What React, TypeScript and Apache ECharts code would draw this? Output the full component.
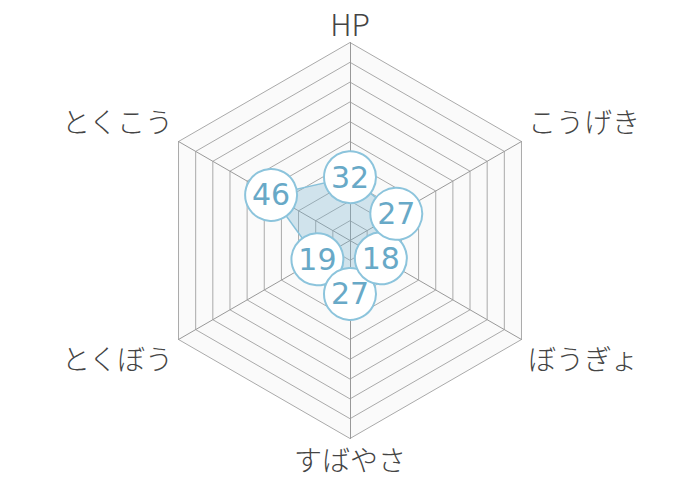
import { useEffect, useRef } from 'react'
import * as echarts from 'echarts'

// listed counter-clockwise from the top, which is how the radar lays them out
const statNames = ['HP', 'とくこう', 'とくぼう', 'すばやさ', 'ぼうぎょ', 'こうげき']
const statValues = [32, 46, 19, 27, 18, 27]
const statMax = 100

const FONT = '"Noto Sans CJK JP", "Noto Sans", sans-serif'
const NUM_FONT = '"DejaVu Sans", sans-serif'

// where each name sits around the hexagon
const nameStyle = ['top', 'left', 'leftLow', 'bottom', 'rightLow', 'right']

export default function App() {
  const ref = useRef<HTMLDivElement>(null)

  useEffect(() => {
    document.body.style.margin = '0'
    if (!ref.current) return
    const chart = echarts.init(ref.current, null, { renderer: 'svg' })

    const base = { fontSize: 28, lineHeight: 28, color: '#444', fontFamily: FONT, fontWeight: 300 }

    chart.setOption({
      animation: false,
      backgroundColor: '#fff',
      radar: {
        center: [350, 240.5],
        radius: 198,
        startAngle: 90,
        splitNumber: 10,
        shape: 'polygon',
        nameGap: 4,
        indicator: statNames.map(n => ({ name: n, max: statMax, min: 0 })),
        axisName: {
          formatter: (name: string) => {
            const i = statNames.indexOf(name)
            return `{${nameStyle[i]}|${name}}`
          },
          rich: {
            top:      { ...base, fontSize: 30, lineHeight: 30, padding: [0, 0, 2, 0] },
            right:    { ...base, padding: [0, 0, 37, 3] },
            rightLow: { ...base, padding: [33, 0, 0, 3] },
            bottom:   { ...base, padding: [5, 0, 0, 0] },
            leftLow:  { ...base, padding: [33, 2, 0, 0] },
            left:     { ...base, padding: [0, 2, 37, 0] },
          },
        },
        splitArea: { areaStyle: { color: ['#fafafa'] } },
        splitLine: { lineStyle: { color: '#aaa', width: 1 } },
        axisLine:  { lineStyle: { color: '#999', width: 1 } },
      },
      series: [{
        type: 'radar',
        data: [{
          value: statValues,
          symbol: 'circle',
          symbolSize: 52,
          itemStyle: { color: '#fff', borderColor: '#8cc4dc', borderWidth: 2 },
          lineStyle: { color: '#8cc4dc', width: 1.5 },
          areaStyle: { color: 'rgba(118,178,208,0.45)' },
          label: {
            show: true,
            position: 'inside',
            color: '#68a9c7',
            fontSize: 30,
            fontFamily: NUM_FONT,
          },
        }],
      }],
    })

    return () => chart.dispose()
  }, [])

  return <div ref={ref} style={{ width: 700, height: 480 }} />
}
